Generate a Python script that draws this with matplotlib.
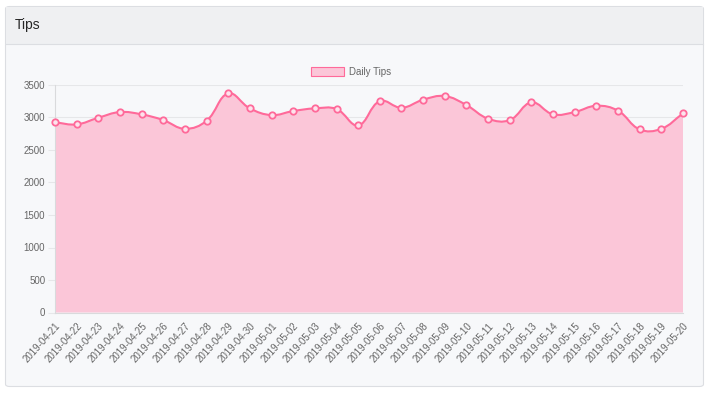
"""
Daily tips area chart, card-style panel.
"""
import numpy as np
import matplotlib
matplotlib.use("Agg")
import matplotlib.pyplot as plt
from matplotlib.path import Path
from matplotlib.patches import PathPatch, FancyBboxPatch, Rectangle, Patch

W, H = 710, 394

dates = [
    "2019-04-21", "2019-04-22", "2019-04-23", "2019-04-24", "2019-04-25",
    "2019-04-26", "2019-04-27", "2019-04-28", "2019-04-29", "2019-04-30",
    "2019-05-01", "2019-05-02", "2019-05-03", "2019-05-04", "2019-05-05",
    "2019-05-06", "2019-05-07", "2019-05-08", "2019-05-09", "2019-05-10",
    "2019-05-11", "2019-05-12", "2019-05-13", "2019-05-14", "2019-05-15",
    "2019-05-16", "2019-05-17", "2019-05-18", "2019-05-19", "2019-05-20",
]
tips = [
    2925, 2894, 2996, 3084, 3048, 2960, 2826, 2950, 3371, 3140,
    3037, 3099, 3140, 3130, 2878, 3253, 3150, 3274, 3330, 3191,
    2981, 2960, 3233, 3048, 3084, 3181, 3104, 2816, 2826, 3063,
]
y_ticks = [0, 500, 1000, 1500, 2000, 2500, 3000, 3500]
series_label = "Daily Tips"
title = "Tips"

LINE = "#ff6a9a"
FILL = "#fbc6d8"
GRID = "#e6e7e9"
TXT = "#666666"
FONT = "Liberation Sans"


def fx(px):
    return px / W


def fy(py):
    return 1 - py / H


def spline_path(ax, xs, ys, tension=0.4):
    # chart.js style cubic bezier, computed in pixel space
    pts = ax.transData.transform(np.column_stack([xs, ys]))
    n = len(pts)
    c_prev = np.zeros_like(pts)
    c_next = np.zeros_like(pts)
    for i in range(n):
        prev = pts[max(i - 1, 0)]
        cur = pts[i]
        nxt = pts[min(i + 1, n - 1)]
        d01 = np.hypot(*(cur - prev))
        d12 = np.hypot(*(nxt - cur))
        tot = d01 + d12
        s01 = d01 / tot if tot else 0
        s12 = d12 / tot if tot else 0
        c_prev[i] = cur - tension * s01 * (nxt - prev)
        c_next[i] = cur + tension * s12 * (nxt - prev)
    inv = ax.transData.inverted()
    pts, c_prev, c_next = inv.transform(pts), inv.transform(c_prev), inv.transform(c_next)
    verts = [pts[0]]
    codes = [Path.MOVETO]
    for i in range(1, n):
        verts += [c_next[i - 1], c_prev[i], pts[i]]
        codes += [Path.CURVE4] * 3
    return np.array(verts), codes


fig = plt.figure(figsize=(W / 100, H / 100), dpi=100, facecolor="white")

# card panel
fig.patches.append(FancyBboxPatch(
    (fx(5.5), fy(386.5)), fx(698), (386.5 - 6.5) / H,
    boxstyle="round,pad=0,rounding_size=0.006", transform=fig.transFigure,
    facecolor="#f7f8fa", edgecolor="#dcdee2", linewidth=0.8, zorder=0))
fig.patches.append(Rectangle(
    (fx(6), fy(43.5)), fx(697), (43.5 - 7) / H, transform=fig.transFigure,
    facecolor="#eff0f2", edgecolor="none", zorder=1))
fig.lines.append(plt.Line2D([fx(6), fx(703)], [fy(43.5), fy(43.5)],
                            transform=fig.transFigure, color="#dcdee2", lw=0.8, zorder=2))
fig.text(fx(15), fy(25.5), title, fontsize=10, color="#262626", family=FONT,
         ha="left", va="center", zorder=3)

ax = fig.add_axes([fx(55), fy(312.5), (683 - 55) / W, (312.5 - 85) / H])
ax.set_zorder(5)
ax.set_facecolor("none")
x = np.arange(len(tips))
ax.set_xlim(0, len(tips) - 1)
ax.set_ylim(0, 3500)

verts, codes = spline_path(ax, x, tips)
fill_verts = np.vstack([[[0, 0]], verts, [[len(tips) - 1, 0]], [[0, 0]]])
fill_codes = [Path.MOVETO, Path.LINETO] + codes[1:] + [Path.LINETO, Path.CLOSEPOLY]
ax.add_patch(PathPatch(Path(fill_verts, fill_codes), facecolor=FILL,
                       edgecolor="none", zorder=2))
ax.add_patch(PathPatch(Path(verts, codes), facecolor="none", edgecolor=LINE,
                       linewidth=1.5, zorder=3))
ax.plot(x, tips, linestyle="none", marker="o", markersize=4.6,
        markerfacecolor="#fde3ec", markeredgecolor=LINE, markeredgewidth=1.3,
        zorder=4, clip_on=False)

ax.set_yticks(y_ticks)
ax.set_yticklabels([str(v) for v in y_ticks], fontsize=7, color=TXT, family=FONT)
ax.set_xticks(x)
ax.set_xticklabels(dates, rotation=48, ha="right", va="top",
                   rotation_mode="anchor", fontsize=7, color=TXT, family=FONT)
ax.tick_params(axis="y", length=5, color=GRID, width=0.8, pad=2)
ax.tick_params(axis="x", length=0, pad=6)
ax.grid(axis="y", color=GRID, linewidth=0.8, zorder=1)
ax.set_axisbelow(True)
for side in ["top", "right"]:
    ax.spines[side].set_visible(False)
for side in ["left", "bottom"]:
    ax.spines[side].set_color("#d9dadc")
    ax.spines[side].set_linewidth(0.8)

handle = Patch(facecolor=FILL, edgecolor=LINE, linewidth=0.8)
fig.legend([handle], [series_label], loc="center",
           bbox_to_anchor=(fx(351), fy(72)), frameon=False,
           prop={"family": FONT, "size": 7}, labelcolor=TXT,
           handlelength=3.4, handleheight=1.1, handletextpad=0.5)

fig.savefig("out.png", dpi=100, facecolor="white")
